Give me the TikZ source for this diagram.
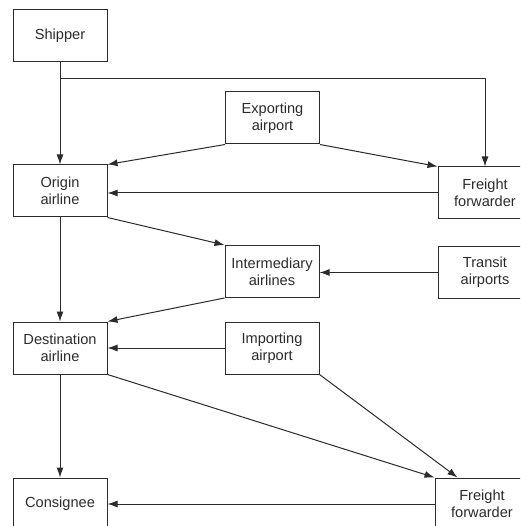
\documentclass[tikz,border=0pt]{standalone}
\usepackage{fontspec}
\setmainfont{Liberation Sans}
\usetikzlibrary{arrows.meta}
\definecolor{ink}{HTML}{2B2B2B}
\begin{document}
\begin{tikzpicture}[x=1pt,y=-1pt,
  box/.style={draw=ink, line width=1pt, rectangle, minimum width=94pt, minimum height=52pt,
    inner sep=0pt, align=center, text=ink, font=\fontsize{14.6}{17}\selectfont},
  flow/.style={draw=ink, line width=1pt, -{Latex[length=10pt,width=7pt]}}]
  \useasboundingbox (0,0) rectangle (520,526);
  \clip (0,0) rectangle (520,526);

  % boxes
  \node[box] (ship)  at (60,35.5)  {Shipper};
  \node[box] (orig)  at (60,191)   {Origin\\airline};
  \node[box] (exp)   at (272.5,118) {Exporting\\airport};
  \node[box] (ff1)   at (485,193)  {Freight\\forwarder};
  \node[box] (inter) at (272,271.5) {Intermediary\\airlines};
  \node[box] (trans) at (485,272.5) {Transit\\airports};
  \node[box] (dest)  at (60,348)   {Destination\\airline};
  \node[box] (imp)   at (272,348)  {Importing\\airport};
  \node[box] (cons)  at (60,504)   {Consignee};
  \node[box] (ff2)   at (482,504)  {Freight\\forwarder};

  % connectors
  \coordinate (split) at (60,79);
  \draw[flow] (ship.south) -- (orig.north);
  \draw[flow] (split) -| (ff1.north);
  \draw[flow] (exp.south west) -- (orig.north east);
  \draw[flow] (exp.south east) -- (ff1.north west);
  \draw[flow] (ff1.west) -- (ff1.west -| orig.east);
  \draw[flow] (orig.south east) -- (inter.north west);
  \draw[flow] (trans.west) -- (trans.west -| inter.east);
  \draw[flow] (orig.south) -- (dest.north);
  \draw[flow] (inter.south west) -- (dest.north east);
  \draw[flow] (imp.west) -- (dest.east);
  \draw[flow] (dest.south east) -- (ff2.north west);
  \draw[flow] (imp.south east) -- ([xshift=23pt]ff2.north west);
  \draw[flow] (dest.south) -- (cons.north);
  \draw[flow] (ff2.west) -- (cons.east);
\end{tikzpicture}
\end{document}
